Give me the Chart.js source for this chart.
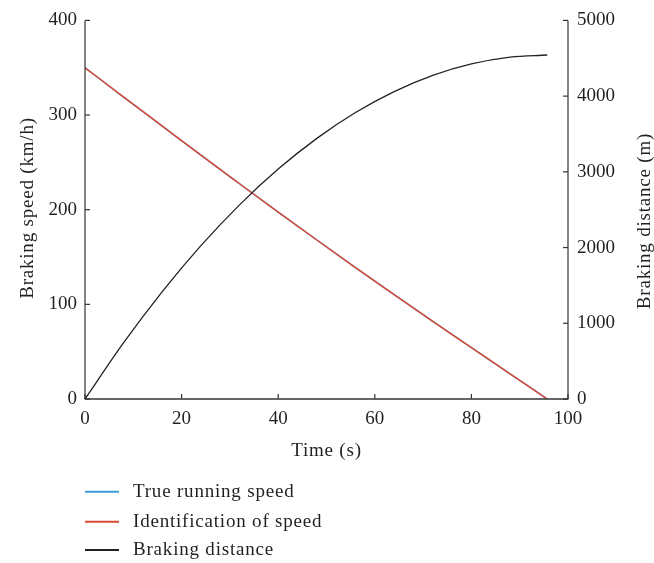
<!DOCTYPE html>
<html>
<head>
<meta charset="utf-8">
<script src="https://cdn.jsdelivr.net/npm/chart.js@4.4.1/dist/chart.umd.min.js"></script>
<style>
  html, body { margin: 0; padding: 0; background: #fff; }
  #wrap { width: 654px; height: 563px; position: relative; }
</style>
</head>
<body>
<div id="wrap"><canvas id="c" width="654" height="563"></canvas></div>
<script>
// ---- data ----
const timeS = [0, 8, 16, 24, 32, 40, 48, 56, 64, 72, 80, 88, 95.7];
const trueSpeed = [350, 319, 288.3, 257.6, 227.4, 197.4, 168, 138.9, 110.2, 82.1, 54.2, 26.6, 0];
const identSpeed = [350, 319, 288.3, 257.6, 227.4, 197.4, 168, 138.9, 110.2, 82.1, 54.2, 26.6, 0];
const brakingDist = [0, 743, 1418, 2025, 2564, 3036, 3442, 3783, 4060, 4274, 4425, 4515, 4543];
const seriesNames = ['True running speed', 'Identification of speed', 'Braking distance'];
const xTitle = 'Time (s)';
const yLeftTitle = 'Braking speed (km/h)';
const yRightTitle = 'Braking distance (m)';

const colors = ['#3d9bd6', '#dc4a35', '#222222'];
const FONT = '"Liberation Serif", "DejaVu Serif", serif';
const TXT = '#231f20';
const AX = '#333333';

function pts(ys) { return timeS.map((t, i) => ({ x: t, y: ys[i] })); }

const extras = {
  id: 'extras',
  afterDraw(chart) {
    const ctx = chart.ctx;
    const x = chart.scales.x, yl = chart.scales.y, yr = chart.scales.y2;
    const a = chart.chartArea;
    ctx.save();
    ctx.strokeStyle = AX;
    ctx.lineWidth = 1.5;
    ctx.beginPath(); ctx.moveTo(a.left - 0.5, a.bottom); ctx.lineTo(a.right + 0.5, a.bottom); ctx.stroke();
    ctx.lineWidth = 1.2;
    ctx.beginPath(); ctx.moveTo(a.left, a.top); ctx.lineTo(a.left, a.bottom); ctx.stroke();
    ctx.beginPath(); ctx.moveTo(a.right, a.top); ctx.lineTo(a.right, a.bottom); ctx.stroke();
    const L = 5;
    x.ticks.forEach(t => { const px = x.getPixelForValue(t.value); ctx.beginPath(); ctx.moveTo(px, a.bottom); ctx.lineTo(px, a.bottom - L); ctx.stroke(); });
    yl.ticks.forEach(t => { const py = yl.getPixelForValue(t.value); ctx.beginPath(); ctx.moveTo(a.left, py); ctx.lineTo(a.left + L, py); ctx.stroke(); });
    yr.ticks.forEach(t => { const py = yr.getPixelForValue(t.value); ctx.beginPath(); ctx.moveTo(a.right, py); ctx.lineTo(a.right - L, py); ctx.stroke(); });
    ctx.fillStyle = TXT;
    ctx.font = '19px ' + FONT;
    if ('letterSpacing' in ctx) ctx.letterSpacing = '0.8px';
    ctx.textAlign = 'center'; ctx.textBaseline = 'middle';
    ctx.fillText(xTitle, (a.left + a.right) / 2, 451);
    ctx.save(); ctx.translate(28, 208); ctx.rotate(-Math.PI / 2); ctx.fillText(yLeftTitle, 0, 0); ctx.restore();
    ctx.save(); ctx.translate(645, 221); ctx.rotate(-Math.PI / 2); ctx.fillText(yRightTitle, 0, 0); ctx.restore();
    const ly = [491.7, 521.7, 550];
    ctx.textAlign = 'left';
    seriesNames.forEach((n, i) => {
      ctx.strokeStyle = colors[i]; ctx.lineWidth = 2;
      ctx.beginPath(); ctx.moveTo(85, ly[i]); ctx.lineTo(119, ly[i]); ctx.stroke();
      ctx.fillStyle = TXT;
      ctx.fillText(n, 133, ly[i]);
    });
    ctx.restore();
  }
};

const tickFont = { family: FONT, size: 19 };
const plain = v => String(v);

new Chart(document.getElementById('c'), {
  type: 'line',
  data: {
    datasets: [
      { label: seriesNames[0], data: pts(trueSpeed), yAxisID: 'y', borderColor: colors[0], borderWidth: 1.5, pointRadius: 0, cubicInterpolationMode: 'monotone', order: 3 },
      { label: seriesNames[1], data: pts(identSpeed), yAxisID: 'y', borderColor: colors[1], borderWidth: 1.5, pointRadius: 0, cubicInterpolationMode: 'monotone', order: 2 },
      { label: seriesNames[2], data: pts(brakingDist), yAxisID: 'y2', borderColor: colors[2], borderWidth: 1.3, pointRadius: 0, cubicInterpolationMode: 'monotone', order: 1 }
    ]
  },
  options: {
    responsive: false,
    animation: false,
    layout: { padding: { top: 18, left: 0, right: 0, bottom: 0 } },
    plugins: { legend: { display: false }, tooltip: { enabled: false } },
    scales: {
      x: {
        type: 'linear', min: 0, max: 100,
        ticks: { stepSize: 20, color: TXT, font: tickFont, padding: 9, maxRotation: 0, callback: plain },
        grid: { display: false, drawTicks: false },
        border: { display: false },
        afterFit(s) { s.height = 164; }
      },
      y: {
        type: 'linear', position: 'left', min: 0, max: 400,
        ticks: { stepSize: 100, color: TXT, font: tickFont, padding: 8, callback: plain },
        grid: { display: false, drawTicks: false },
        border: { display: false },
        afterFit(s) { s.width = 85; }
      },
      y2: {
        type: 'linear', position: 'right', min: 0, max: 5000,
        ticks: { stepSize: 1000, color: TXT, font: tickFont, padding: 9, callback: plain },
        grid: { display: false, drawTicks: false },
        border: { display: false },
        afterFit(s) { s.width = 86; }
      }
    }
  },
  plugins: [extras]
});
</script>
</body>
</html>
